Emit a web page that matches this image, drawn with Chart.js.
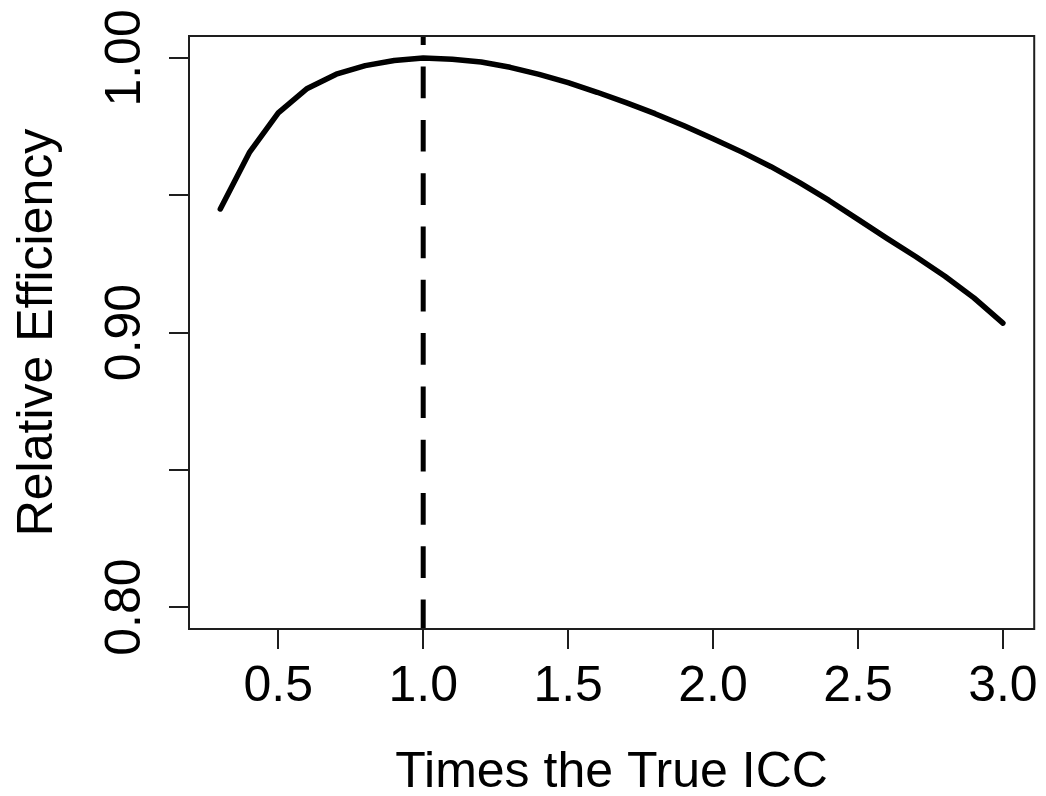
<!DOCTYPE html>
<html>
<head>
<meta charset="utf-8">
<script src="https://cdn.jsdelivr.net/npm/chart.js@4/dist/chart.umd.min.js"></script>
<style>
  html, body { margin: 0; padding: 0; background: #ffffff; }
  #c { display: block; }
</style>
</head>
<body>
<canvas id="c" width="1046" height="796"></canvas>
<script>
// ---- data ----
const iccMultiplier = [0.3, 0.4, 0.5, 0.6, 0.7, 0.8, 0.9, 1.0, 1.1, 1.2, 1.3, 1.4, 1.5, 1.6, 1.7, 1.8, 1.9, 2.0, 2.1, 2.2, 2.3, 2.4, 2.5, 2.6, 2.7, 2.8, 2.9, 3.0];
const relEfficiency = [0.9450, 0.9655, 0.9800, 0.9889, 0.9941, 0.9972, 0.9991, 1.0000, 0.9995, 0.9985, 0.9966, 0.9940, 0.9910, 0.9875, 0.9837, 0.9797, 0.9753, 0.9706, 0.9657, 0.9604, 0.9545, 0.9481, 0.9412, 0.9343, 0.9276, 0.9205, 0.9126, 0.9034];
const trueIccMark = 1.0;
const xTicks = [0.5, 1.0, 1.5, 2.0, 2.5, 3.0];
const xTickLabels = ['0.5', '1.0', '1.5', '2.0', '2.5', '3.0'];
const yTicks = [0.80, 0.85, 0.90, 0.95, 1.00];
const yTickLabels = ['0.80', '', '0.90', '', '1.00'];
const xRange = [0.192, 3.108];
const yRange = [0.792, 1.008];
const xTitle = 'Times the True ICC';
const yTitle = 'Relative Efficiency';

const FONT = "'Liberation Sans', Arial, Helvetica, sans-serif";
const INK = '#000000';
const AXIS = '#1e1e1e';

const boxPlugin = {
  id: 'rbox',
  afterDraw(chart) {
    const {ctx, chartArea: a} = chart;
    ctx.save();
    ctx.strokeStyle = AXIS;
    ctx.lineWidth = 2;
    ctx.strokeRect(a.left, a.top, a.right - a.left, a.bottom - a.top);
    // rotated y tick labels (R style, las = 0)
    const ys = chart.scales.y;
    ctx.fillStyle = INK;
    ctx.font = '50px ' + FONT;
    ctx.textAlign = 'center';
    ctx.textBaseline = 'alphabetic';
    yTicks.forEach((v, i) => {
      const lab = yTickLabels[i];
      if (!lab) return;
      const py = ys.getPixelForValue(v);
      ctx.save();
      ctx.translate(140, py);
      ctx.rotate(-Math.PI / 2);
      ctx.fillText(lab, 0, 0);
      ctx.restore();
    });
    ctx.restore();
  }
};

new Chart(document.getElementById('c'), {
  type: 'line',
  data: {
    datasets: [
      {
        label: 'Relative efficiency',
        data: iccMultiplier.map((x, i) => ({x: x, y: relEfficiency[i]})),
        borderColor: INK,
        borderWidth: 5.5,
        pointRadius: 0,
        tension: 0,
        fill: false,
        borderJoinStyle: 'round',
        borderCapStyle: 'round'
      },
      {
        label: 'True ICC',
        data: [{x: trueIccMark, y: yRange[1]}, {x: trueIccMark, y: yRange[0]}],
        borderColor: INK,
        borderWidth: 5,
        borderDash: [31.7, 21.6],
        borderDashOffset: 22.7,
        pointRadius: 0,
        fill: false
      }
    ]
  },
  options: {
    responsive: false,
    animation: false,
    devicePixelRatio: 1,
    layout: { padding: { top: 36, right: 9, left: 0, bottom: 0 } },
    plugins: { legend: { display: false }, tooltip: { enabled: false } },
    scales: {
      x: {
        type: 'linear',
        min: xRange[0],
        max: xRange[1],
        afterBuildTicks: s => { s.ticks = xTicks.map(v => ({value: v})); },
        afterFit: s => { s.height = 167; },
        border: { display: false },
        grid: { display: true, drawOnChartArea: false, drawTicks: true, tickLength: 20, color: AXIS, lineWidth: 2 },
        ticks: {
          color: INK,
          font: { family: FONT, size: 50 },
          padding: 8,
          maxRotation: 0,
          minRotation: 0,
          autoSkip: false,
          callback: (v, i) => xTickLabels[i]
        },
        title: {
          display: true,
          text: xTitle,
          color: INK,
          font: { family: FONT, size: 50, lineHeight: '46px' },
          padding: { top: 0, bottom: 0 }
        }
      },
      y: {
        type: 'linear',
        min: yRange[0],
        max: yRange[1],
        afterBuildTicks: s => { s.ticks = yTicks.map(v => ({value: v})); },
        afterFit: s => { s.width = 189; },
        border: { display: false },
        grid: { display: true, drawOnChartArea: false, drawTicks: true, tickLength: 20, color: AXIS, lineWidth: 2 },
        ticks: { display: false },
        title: {
          display: true,
          text: yTitle,
          color: INK,
          font: { family: FONT, size: 50, lineHeight: 1.2 },
          padding: { top: 8, bottom: 0 }
        }
      }
    }
  },
  plugins: [boxPlugin]
});
</script>
</body>
</html>
